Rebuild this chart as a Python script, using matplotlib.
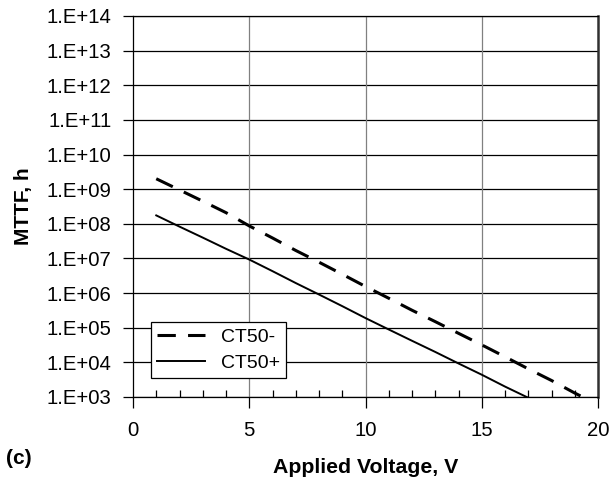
import math
import matplotlib
matplotlib.use("Agg")
import matplotlib.pyplot as plt
from matplotlib.ticker import FixedLocator, FuncFormatter, MultipleLocator, NullLocator

plt.rcParams['font.family'] = ['Liberation Sans', 'DejaVu Sans']

# Data
v_neg = [1, 2, 3, 4, 5, 6, 7, 8, 9, 10, 11, 12, 13, 14, 15, 16, 17, 18, 19, 20]
mttf_neg = [2.0e9, 9.5e8, 4.5e8, 2.1e8, 8.7e7, 3.9e7, 1.7e7, 7.8e6, 3.5e6, 1.55e6,
            7.1e5, 3.2e5, 1.5e5, 6.9e4, 3.2e4, 1.45e4, 6.5e3, 3.0e3, 1.3e3, 6.0e2]
v_pos = [1, 2, 3, 4, 5, 6, 7, 8, 9, 10, 11, 12, 13, 14, 15, 16, 17]
mttf_pos = [1.75e8, 8.3e7, 4.0e7, 1.9e7, 9.3e6, 4.3e6, 1.95e6, 9.1e5, 4.2e5, 1.9e5,
            8.9e4, 4.2e4, 2.0e4, 9.3e3, 4.4e3, 2.0e3, 9.5e2]
series_labels = ["CT50-", "CT50+"]
x_ticks = [0, 5, 10, 15, 20]
y_exponents = list(range(3, 15))

fig = plt.figure(figsize=(6.14, 4.78), dpi=100)
ax = fig.add_axes([133/614, 81/478, 465/614, 381/478])

ax.set_yscale('log')
ax.set_xlim(0, 20)
ax.set_ylim(1e3, 1e14)

# grid
for e in y_exponents:
    ax.axhline(10.0**e, color='black', lw=0.9, zorder=1)
for xv in x_ticks[1:-1]:
    ax.axvline(xv, color='#808080', lw=0.9, zorder=1)

ax.plot(v_neg, mttf_neg, color='black', lw=2.2, dashes=(6.0, 4.0),
        label=series_labels[0], zorder=3, dash_capstyle='butt')
ax.plot(v_pos, mttf_pos, color='black', lw=1.4, label=series_labels[1], zorder=3)

ax.yaxis.set_major_locator(FixedLocator([10.0**e for e in y_exponents]))
ax.yaxis.set_minor_locator(NullLocator())
ax.yaxis.set_major_formatter(FuncFormatter(lambda y, p: "1.E+%02d" % round(math.log10(y))))
ax.xaxis.set_major_locator(FixedLocator(x_ticks))
ax.xaxis.set_minor_locator(MultipleLocator(1))

ax.tick_params(axis='y', which='major', direction='out', length=7, width=0.9,
               labelsize=14.6, pad=8.5)
ax.tick_params(axis='x', which='major', direction='out', length=8, width=0.9,
               labelsize=14.6, pad=9.5)
ax.tick_params(axis='x', which='minor', direction='in', length=5, width=0.9)

for s in ['left', 'bottom', 'top']:
    ax.spines[s].set_linewidth(0.9)
    ax.spines[s].set_color('black')
ax.spines['right'].set_color('#303030')
ax.spines['right'].set_linewidth(1.8)

ax.set_xlabel("Applied Voltage, V", fontsize=15.3, fontweight='bold', labelpad=12.5)
ax.set_ylabel("MTTF, h", fontsize=15, fontweight='bold', labelpad=10)

fig.text(6/614, 1 - 459/478, "(c)", fontsize=15, fontweight='bold', va='center', ha='left')

leg = ax.legend(loc='lower left', bbox_to_anchor=(18/465, 19/381), borderaxespad=0,
                fontsize=14, frameon=True, fancybox=False, handlelength=2.5,
                handletextpad=0.8, labelspacing=0.45, borderpad=0.3)
leg.get_frame().set_edgecolor('black')
leg.get_frame().set_linewidth(0.9)
leg.get_frame().set_alpha(1)

fig.savefig("out.png", dpi=100)
